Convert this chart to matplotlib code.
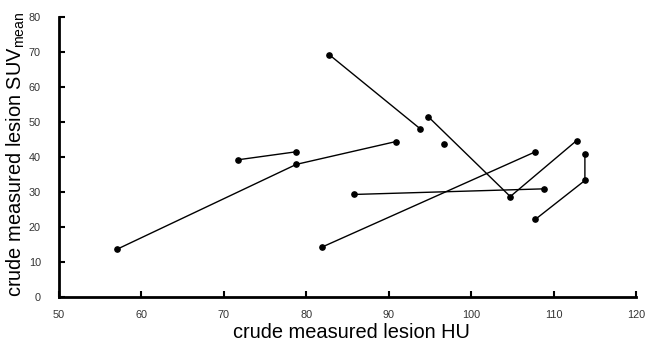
import matplotlib
matplotlib.use("Agg")
import matplotlib.pyplot as plt

# Each lesion trajectory: HU (x) and SUVmean (y)
lesion_hu = [
    [57.0, 78.8, 90.85],
    [71.7, 78.8],
    [82.8, 93.8],
    [94.8, 104.75, 112.8],
    [96.75],
    [81.85, 107.8],
    [85.8, 108.8],
    [113.8, 113.8, 107.8],
]
lesion_suv = [
    [13.6, 37.9, 44.4],
    [39.2, 41.5],
    [69.2, 48.1],
    [51.5, 28.7, 44.7],
    [43.8],
    [14.2, 41.5],
    [29.3, 30.9],
    [41.0, 33.3, 22.2],
]
x_ticks = [50, 60, 70, 80, 90, 100, 110, 120]
y_ticks = [0, 10, 20, 30, 40, 50, 60, 70, 80]

plt.rcParams['font.family'] = ['Liberation Sans', 'DejaVu Sans']

fig = plt.figure(figsize=(6.46, 3.42), dpi=100)
ax = fig.add_axes([59/646, 45/342, (636-59)/646, (297-17)/342])

for xs, ys in zip(lesion_hu, lesion_suv):
    ax.plot(xs, ys, color='black', linewidth=1.0, marker='o', markersize=3.8,
            markerfacecolor='black', markeredgecolor='black', clip_on=False)

ax.set_xlim(50, 120)
ax.set_ylim(0, 80)
ax.set_xticks(x_ticks)
ax.set_yticks(y_ticks)
ax.set_xticklabels([str(t) for t in x_ticks])
ax.set_yticklabels([str(t) for t in y_ticks])

for s in ['top', 'right']:
    ax.spines[s].set_visible(False)
for s in ['left', 'bottom']:
    ax.spines[s].set_linewidth(2.0)
    ax.spines[s].set_color('black')

ax.tick_params(axis='both', direction='in', length=4, width=1.5, color='black',
               labelsize=7.8, labelcolor='#333333')
ax.tick_params(axis='x', pad=9)
ax.tick_params(axis='y', pad=13)

ax.set_xlabel('crude measured lesion HU', fontsize=14.4)
ax.set_ylabel(r'crude measured lesion SUV$_{\mathregular{mean}}$', fontsize=14.4)
ax.xaxis.set_label_coords(0.507, -0.093)
ax.yaxis.set_label_coords(-0.056, 0.51)

fig.savefig('out.png', dpi=100)
